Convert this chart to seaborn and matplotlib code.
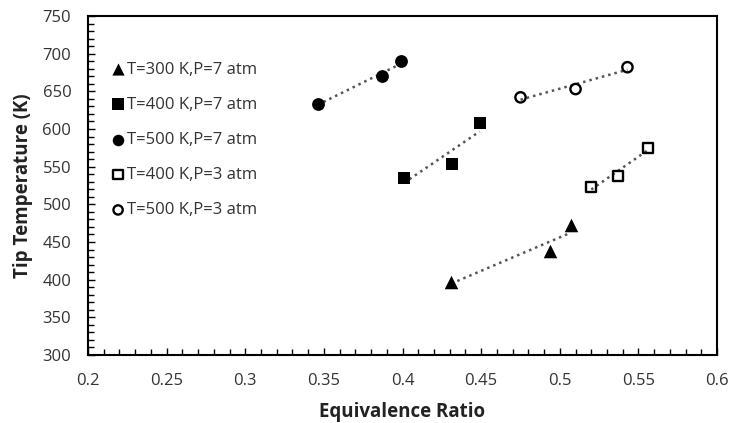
import numpy as np
import pandas as pd
import matplotlib
matplotlib.use("Agg")
import matplotlib.pyplot as plt
from matplotlib.ticker import MultipleLocator
import seaborn as sns

# Tip temperature vs. equivalence ratio for each inlet condition
labels = [
    "T=300 K,P=7 atm",
    "T=400 K,P=7 atm",
    "T=500 K,P=7 atm",
    "T=400 K,P=3 atm",
    "T=500 K,P=3 atm",
]
phi_300_7 = [0.431, 0.494, 0.507]
temp_300_7 = [397, 438, 473]
phi_400_7 = [0.401, 0.4315, 0.449]
temp_400_7 = [535, 554, 608]
phi_500_7 = [0.346, 0.387, 0.399]
temp_500_7 = [633, 670, 690]
phi_400_3 = [0.520, 0.537, 0.556]
temp_400_3 = [523, 538, 575]
phi_500_3 = [0.475, 0.510, 0.543]
temp_500_3 = [642, 653, 682]

x_ticks = [0.2, 0.25, 0.3, 0.35, 0.4, 0.45, 0.5, 0.55, 0.6]
y_ticks = [300, 350, 400, 450, 500, 550, 600, 650, 700, 750]

series = [
    (phi_300_7, temp_300_7, "^", True, 95),
    (phi_400_7, temp_400_7, "s", True, 85),
    (phi_500_7, temp_500_7, "o", True, 85),
    (phi_400_3, temp_400_3, "s", False, 55),
    (phi_500_3, temp_500_3, "o", False, 55),
]

sns.set_theme(style="white")
plt.rcParams["font.family"] = ["Open Sans", "DejaVu Sans"]

fig = plt.figure(figsize=(7.37, 4.23), dpi=100)
ax = fig.add_axes([0.1194, 0.1608, 0.8536, 0.8014])

for (phi, temp, marker, filled, size), label in zip(series, labels):
    df = pd.DataFrame({"phi": phi, "temp": temp})
    # dotted linear trend line over the data range
    sns.regplot(data=df, x="phi", y="temp", ax=ax, scatter=False, ci=None,
                truncate=True,
                line_kws={"color": "#555555", "linestyle": (0, (1, 1.6)),
                          "linewidth": 1.8, "zorder": 2})
    if filled:
        sns.scatterplot(data=df, x="phi", y="temp", ax=ax, marker=marker,
                        color="black", edgecolor="black", linewidth=0,
                        s=size, zorder=3, label=label)
    else:
        sns.scatterplot(data=df, x="phi", y="temp", ax=ax, marker=marker,
                        facecolor="none", edgecolor="black", linewidth=1.7,
                        s=size, zorder=3, label=label)

ax.set_xlim(0.2, 0.6)
ax.set_ylim(300, 750)
ax.set_xticks(x_ticks)
ax.set_xticklabels([f"{v:g}" for v in x_ticks])
ax.set_yticks(y_ticks)
ax.xaxis.set_minor_locator(MultipleLocator(0.01))
ax.yaxis.set_minor_locator(MultipleLocator(10))
ax.tick_params(axis="both", which="both", direction="in", colors="black",
               labelcolor="#333333", labelsize=12, top=False, right=False,
               left=True, bottom=True)
ax.tick_params(axis="both", which="major", length=5, width=1)
ax.tick_params(axis="both", which="minor", length=4, width=1)
ax.tick_params(axis="x", which="major", pad=13)
ax.tick_params(axis="y", which="major", pad=12)

for sp in ax.spines.values():
    sp.set_color("black")
    sp.set_linewidth(1.5)

ax.set_xlabel("Equivalence Ratio", fontsize=13.5, fontweight="bold",
              color="#222222", labelpad=9)
ax.set_ylabel("Tip Temperature (K)", fontsize=13.5, fontweight="bold",
              color="#222222", labelpad=7)

leg = ax.legend(loc="upper left", bbox_to_anchor=(0.024, 0.885),
                frameon=False, fontsize=12, labelspacing=1.15,
                handletextpad=0.05, handlelength=1.0, borderaxespad=0,
                markerscale=0.9)
for t in leg.get_texts():
    t.set_color("#333333")

fig.savefig("out.png", dpi=100)
